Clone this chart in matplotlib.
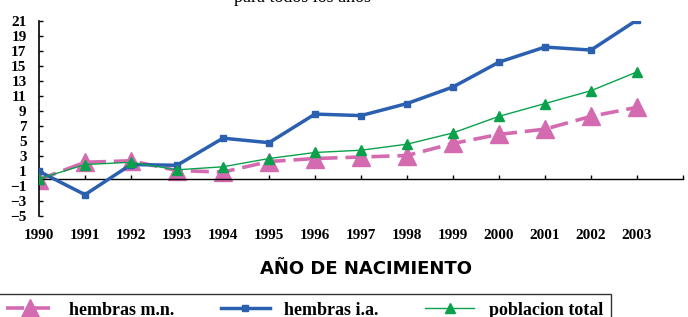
import matplotlib
matplotlib.use('Agg')
import matplotlib.pyplot as plt

# Data
years = [1990, 1991, 1992, 1993, 1994, 1995, 1996, 1997, 1998, 1999, 2000, 2001, 2002, 2003]
hembras_mn = [-0.1, 2.2, 2.4, 1.1, 0.9, 2.3, 2.7, 2.9, 3.1, 4.7, 5.9, 6.6, 8.3, 9.5]
hembras_ia = [1.0, -2.1, 1.9, 1.8, 5.4, 4.8, 8.6, 8.4, 10.0, 12.2, 15.5, 17.5, 17.1, 21.1]
poblacion_total = [0.0, 1.9, 2.2, 1.2, 1.6, 2.7, 3.5, 3.8, 4.6, 6.1, 8.3, 10.0, 11.7, 14.2]

y_ticks = list(range(-5, 22, 2))

fig = plt.figure(figsize=(6.88, 3.17), dpi=100)
ax = fig.add_axes([39 / 688, 1 - 216.5 / 317, 644 / 688, 195.8 / 317])

ax.plot(years, hembras_mn, color='#d46bb0', lw=2.6, dashes=(5, 2.2),
        marker='^', ms=13, label='hembras m.n.', zorder=2)
ax.plot(years, hembras_ia, color='#2b5faf', lw=2.5,
        marker='s', ms=4.5, label='hembras i.a.', zorder=3)
ax.plot(years, poblacion_total, color='#0aa14b', lw=1.0,
        marker='^', ms=7, label='poblacion total', zorder=4)

ax.set_xlim(1990, 2004)
ax.set_ylim(-5, 21)
ax.set_xticks(years + [2004])
ax.set_xticklabels([str(y) for y in years] + [''])
ax.set_yticks(y_ticks)

ax.spines['top'].set_visible(False)
ax.spines['right'].set_visible(False)
ax.spines['bottom'].set_position(('data', 0))
ax.spines['left'].set_linewidth(1.2)
ax.spines['bottom'].set_linewidth(1.0)

ax.tick_params(axis='y', direction='in', length=3, width=1, pad=9)
ax.tick_params(axis='x', direction='in', length=3, width=1, pad=36)
for lbl in ax.get_xticklabels() + ax.get_yticklabels():
    lbl.set_fontfamily('Liberation Serif')
    lbl.set_fontweight('bold')
    lbl.set_fontsize(11)

fig.text(366.5 / 688, 1 - 269 / 317, 'AÑO DE NACIMIENTO', ha='center', va='center',
         fontsize=13, family='DejaVu Sans', weight='bold')

# partially visible title at the very top
fig.text(302 / 688, 1 - 1.5 / 317, 'para todos los años', ha='center', va='baseline',
         fontsize=13, family='Liberation Serif')

leg = fig.legend(loc='upper left', bbox_to_anchor=(-2 / 688, 1 - 294 / 317),
                 ncol=3, frameon=True, fancybox=False, edgecolor='black',
                 borderaxespad=0, handlelength=2.7, handletextpad=0.8,
                 columnspacing=2.6, borderpad=0.42,
                 prop={'family': 'Liberation Serif', 'weight': 'bold', 'size': 13})
leg.get_frame().set_linewidth(1.0)

fig.savefig('out.png', dpi=100)
